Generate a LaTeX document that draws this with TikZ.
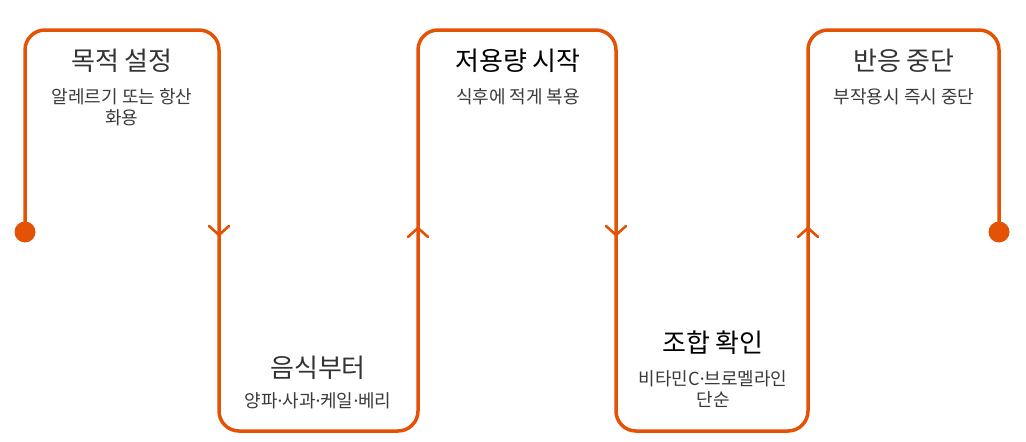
\documentclass[tikz,border=0pt]{standalone}
\usepackage{fontspec}
\setmainfont{Noto Sans CJK KR}
\newfontfamily\latinfont{Noto Sans}
\newcommand{\mdot}{{\latinfont ·}}
\definecolor{flow}{HTML}{E35205}
\definecolor{titlegray}{HTML}{333333}
\definecolor{subgray}{HTML}{3A3A3A}
\tikzset{
  flowline/.style={draw=flow, line width=3.5pt, rounded corners=20pt, line join=round},
  chev/.style={draw=flow, line width=2.6pt, line cap=round, line join=miter},
  title/.style={inner sep=0pt, font=\fontsize{26}{29}\selectfont, text=titlegray, align=center},
  titledark/.style={title, text=black},
  sub/.style={inner sep=0pt, font=\fontsize{18}{20.5}\selectfont, text=subgray, align=center},
  enddot/.style={circle, fill=flow, inner sep=0pt, minimum size=21pt}
}
\begin{document}
\begin{tikzpicture}[x=1pt,y=-1pt]
\useasboundingbox (0,0) rectangle (1026,442);
% path points
\coordinate (s) at (25,232);
\coordinate (p1) at (25,30);
\coordinate (p2) at (219,30);
\coordinate (p3) at (219,431);
\coordinate (p4) at (418,431);
\coordinate (p5) at (418,30);
\coordinate (p6) at (616,30);
\coordinate (p7) at (616,431);
\coordinate (p8) at (808,431);
\coordinate (p9) at (808,30);
\coordinate (p10) at (999,30);
\coordinate (e) at (999,232);
\draw[flowline] (s) -- (p1) -- (p2) -- (p3) -- (p4) -- (p5) -- (p6) -- (p7) -- (p8) -- (p9) -- (p10) -- (e);
\node[enddot] (ds) at (s) {};
\node[enddot] (de) at (e) {};
% chevrons
\coordinate (a1) at (219,235);
\coordinate (a2) at (418,228);
\coordinate (a3) at (616,235);
\coordinate (a4) at (808,228);
\draw[chev] ([shift={(-10,-9)}]a1) -- (a1) -- ([shift={(10,-9)}]a1);
\draw[chev] ([shift={(-10,9)}]a2) -- (a2) -- ([shift={(10,9)}]a2);
\draw[chev] ([shift={(-10,-9)}]a3) -- (a3) -- ([shift={(10,-9)}]a3);
\draw[chev] ([shift={(-10,9)}]a4) -- (a4) -- ([shift={(10,9)}]a4);
% texts
\node[title] (t1) at (122,61) {목적 설정};
\node[sub] (s1) at (122,107) {알레르기 또는 항산\\화용};
\node[title] (t2) at (318,368) {음식부터};
\node[sub] (s2) at (318,401) {양파\mdot 사과\mdot 케일\mdot 베리};
\node[titledark] (t3) at (518,61) {저용량 시작};
\node[sub] (s3) at (518,97) {식후에 적게 복용};
\node[titledark] (t4) at (713,343) {조합 확인};
\node[sub] (s4) at (713,389) {비타민C\mdot 브로멜라인\\단순};
\node[title] (t5) at (904,61) {반응 중단};
\node[sub] (s5) at (904,97) {부작용시 즉시 중단};
\end{tikzpicture}
\end{document}
